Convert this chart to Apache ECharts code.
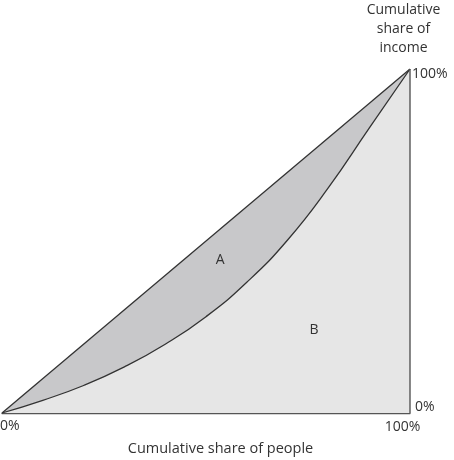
<!DOCTYPE html>
<html>
<head>
<meta charset="utf-8">
<script src="https://cdn.jsdelivr.net/npm/echarts@6/dist/echarts.min.js"></script>
<style>
html,body{margin:0;padding:0;background:#fff;}
#c{width:454px;height:460px;}
</style>
</head>
<body>
<div id="c"></div>
<script>
// Cumulative share of people (%)
var lorenzX = [0, 10, 20, 30, 40, 50, 60, 70, 80, 90, 100];
// Cumulative share of income (%)
var lorenzY = [0, 3.7, 8, 13.4, 20, 28, 38, 50.3, 65.5, 82.8, 100];
var equalityX = [0, 100];
var equalityY = [0, 100];
var xTickLabels = ['0%', '100%'];
var yTickLabels = ['0%', '100%'];
var xTitle = 'Cumulative share of people';
var yTitle = 'Cumulative\nshare of\nincome';
var areaLabels = ['A', 'B'];
var areaLabelPos = [[53.5, 44.5], [76.5, 24]];

var FONT = 'Open Sans';
var TXT = '#333';
var LINE = '#333';

var chart = echarts.init(document.getElementById('c'), null, {renderer: 'canvas'});

function pairs(xs, ys) { return xs.map(function (x, i) { return [x, ys[i]]; }); }

chart.setOption({
  animation: false,
  grid: {left: 2, right: 44, top: 69, bottom: 47, containLabel: false},
  xAxis: {
    type: 'value', min: 0, max: 100, interval: 100,
    axisLine: {show: true, lineStyle: {color: '#555', width: 1.4}},
    axisTick: {show: false}, axisLabel: {show: false}, splitLine: {show: false}
  },
  yAxis: {
    type: 'value', min: 0, max: 100, interval: 100, position: 'right',
    axisLine: {show: false}, axisTick: {show: false}, axisLabel: {show: false}, splitLine: {show: false}
  },
  series: [
    {
      type: 'line', data: pairs(equalityX, equalityY), symbol: 'none', z: 2,
      lineStyle: {color: LINE, width: 1.3},
      areaStyle: {color: '#c8c8ca', opacity: 1, origin: 'start'}
    },
    {
      type: 'line', data: pairs(lorenzX, lorenzY), symbol: 'none', smooth: 0.5, z: 3,
      lineStyle: {color: LINE, width: 1.3},
      areaStyle: {color: '#e6e6e6', opacity: 1, origin: 'start'}
    },
    {
      type: 'line', data: [[100, 0], [100, 100]], symbol: 'none', z: 4,
      lineStyle: {color: '#555', width: 1.4}
    }
  ]
});

function px(x, y) { return chart.convertToPixel({gridIndex: 0}, [x, y]); }

var p00 = px(0, 0), p10 = px(100, 0), p11 = px(100, 100);
var g = [];
function txt(x, y, s, align, vAlign, size, lh) {
  g.push({type: 'text', x: x, y: y, z: 10, style: {
    text: s, fill: TXT, font: (size || 14) + 'px "' + FONT + '"',
    align: align, verticalAlign: vAlign, lineHeight: lh || 18
  }});
}
// x tick labels
txt(p00[0] - 2, p00[1] + 13, xTickLabels[0], 'left', 'middle');
txt(p10[0] - 7.5, p10[1] + 14, xTickLabels[1], 'center', 'middle');
// y tick labels
txt(p10[0] + 5, p10[1] - 6, yTickLabels[0], 'left', 'middle');
txt(p11[0] + 2, p11[1] + 5, yTickLabels[1], 'left', 'middle');
// axis titles
txt(220.5, 449, xTitle, 'center', 'middle', 14.5);
txt(403.5, 29, yTitle, 'center', 'middle', 14, 19);
// area labels
areaLabels.forEach(function (s, i) {
  var p = px(areaLabelPos[i][0], areaLabelPos[i][1]);
  txt(p[0], p[1], s, 'center', 'middle', 14);
});
chart.setOption({graphic: g});
</script>
</body>
</html>
